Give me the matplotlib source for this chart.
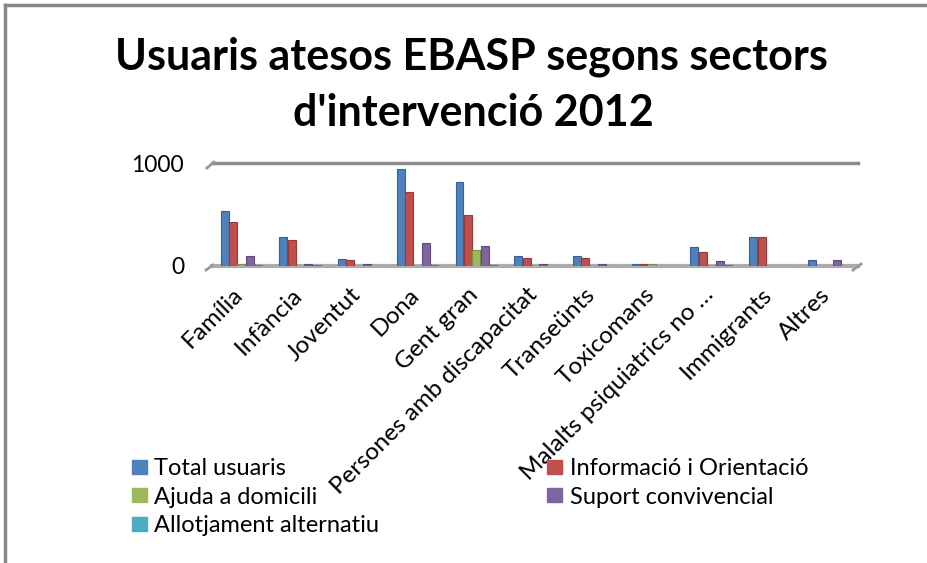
import numpy as np
import matplotlib
matplotlib.use("Agg")
import matplotlib.pyplot as plt
import matplotlib.transforms as mtransforms
from matplotlib.lines import Line2D
from matplotlib.patches import Patch

plt.rcParams['font.family'] = ['Lato', 'DejaVu Sans']

# ── data ─────────────────────────────────────────────────────────────────────
sectors = ["Família", "Infància", "Joventut", "Dona", "Gent gran",
           "Persones amb discapacitat", "Transeünts", "Toxicomans",
           "Malalts psiquiatrics no …", "Immigrants", "Altres"]
total_usuaris = [535, 285, 70, 945, 820, 100, 100, 20, 180, 280, 60]
informacio    = [430, 255, 60, 715, 500, 80, 75, 20, 140, 280, 0]
ajuda_dom     = [20, 0, 0, 0, 160, 0, 0, 15, 0, 0, 0]
suport_conv   = [100, 20, 15, 225, 190, 15, 15, 0, 45, 0, 60]
allotjament   = [10, 10, 0, 10, 10, 0, 0, 0, 10, 0, 0]

series = [("Total usuaris", total_usuaris, "#4F81BD", "#35609a"),
          ("Informació i Orientació", informacio, "#C0504D", "#9a3835"),
          ("Ajuda a domicili", ajuda_dom, "#9BBB59", "#76923c"),
          ("Suport convivencial", suport_conv, "#8064A2", "#5f4a7d"),
          ("Allotjament alternatiu", allotjament, "#4BACC6", "#31859c")]

W, H = 928, 563

def fx(px):
    return px / W

def fy(py):
    return 1 - py / H

# ── figure ───────────────────────────────────────────────────────────────────
fig = plt.figure(figsize=(9.28, 5.63), dpi=100)
ax = fig.add_axes([fx(212), fy(266), fx(858) - fx(212), fy(163) - fy(266)])

x = np.arange(len(sectors))
w = 1/7
for i, (name, vals, col, edge) in enumerate(series):
    ax.bar(x - 2*w + i*w, vals, width=w*0.95, color=col,
           edgecolor=edge, linewidth=0.8, zorder=3)

ax.set_xlim(-0.5, len(sectors) - 0.5)
ax.set_ylim(0, 1000)
ax.axhline(1000, color="#8c8c8c", lw=2.5, zorder=1, clip_on=False)
ax.axhline(0, color="#acacac", lw=3, zorder=2, clip_on=False)
for s in ax.spines.values():
    s.set_visible(False)
ax.set_yticks([0, 1000])
ax.set_yticklabels(["0", "1000"], fontsize=16.5)
ax.tick_params(axis="y", length=0, pad=20)
ax.tick_params(axis="x", length=0, pad=13)
ax.set_xticks(x)
ax.set_xticklabels(sectors, rotation=45, ha="right", rotation_mode="anchor",
                   fontsize=17.5)
shift = mtransforms.ScaledTranslation(-9/100, 0, fig.dpi_scale_trans)
for lbl in ax.get_xticklabels():
    lbl.set_transform(lbl.get_transform() + shift)

# 3D-ish corners of back wall and floor
for (x0, y0, x1, y1) in [(207, 168, 214, 162), (206, 270, 213, 265),
                         (853, 270, 861, 264)]:
    fig.add_artist(Line2D([fx(x0), fx(x1)], [fy(y0), fy(y1)],
                          color="#999999", lw=2))

fig.text(0.508, fy(57), "Usuaris atesos EBASP segons sectors",
         ha="center", va="center", fontsize=31, fontweight="bold")
fig.text(0.510, fy(113), "d'intervenció 2012",
         ha="center", va="center", fontsize=31, fontweight="bold")

handles = [Patch(color=s[2]) for s in series]
labels = [s[0] for s in series]
order = [0, 2, 4, 1, 3]
fig.legend([handles[k] for k in order], [labels[k] for k in order],
           ncol=2, loc="upper left", bbox_to_anchor=(fx(132), fy(458)),
           frameon=False, fontsize=17, handlelength=0.65, handleheight=0.55,
           handletextpad=0.3, columnspacing=7.1, labelspacing=0.32,
           borderaxespad=0, borderpad=0)

# chart border (top and left edges)
fig.add_artist(Line2D([fx(5), fx(5)], [0, fy(5)], color="#888888", lw=2.5))
fig.add_artist(Line2D([fx(5), 1], [fy(5), fy(5)], color="#888888", lw=2.5))

fig.savefig("out.png", dpi=100)
